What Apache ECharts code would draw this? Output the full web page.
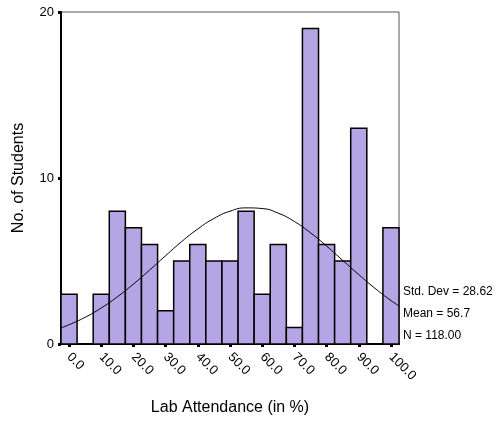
<!DOCTYPE html>
<html><head><meta charset="utf-8">
<script src="https://cdn.jsdelivr.net/npm/echarts@6/dist/echarts.min.js"></script>
<style>html,body{margin:0;padding:0;background:#fff}#c{width:497px;height:423px}</style>
</head><body><div id="c"></div>
<script>
// Bin centres (width 5) and counts
var binCenters = [0,5,10,15,20,25,30,35,40,45,50,55,60,65,70,75,80,85,90,95,100];
var counts     = [3,0,3,8,7,6,2,5,6,5,5,8,3,6,1,19,6,5,13,0,7];
// Fitted normal curve
var curveX = [-2.5,0,5,10,15,20,25,30,35,40,45,50,55,60,65,70,75,80,85,90,95,100,102.5];
var curveY = [0.97,1.16,1.61,2.17,2.84,3.61,4.45,5.32,6.17,6.93,7.56,8.00,8.20,8.16,7.88,7.38,6.70,5.90,5.04,4.18,3.36,2.62,2.29];
var xTicks = [0,10,20,30,40,50,60,70,80,90,100];
var statsText = ['Std. Dev = 28.62','Mean = 56.7','N = 118.00'];
var binWidth = 5;

var chart = echarts.init(document.getElementById('c'), null, {renderer:'canvas'});
var font = 'Liberation Sans, Arial, sans-serif';
chart.setOption({
  animation:false,
  grid:{left:61,right:98,top:12,bottom:79,outerBoundsMode:'none',containLabel:false,
    show:true,borderColor:'#555',borderWidth:1,backgroundColor:'transparent'},
  xAxis:{type:'value',min:-2.5,max:102.5,
    name:'Lab Attendance (in %)',nameLocation:'middle',nameGap:56,
    nameTextStyle:{color:'#000',fontSize:16,fontFamily:font},
    axisLine:{show:true,onZero:false,lineStyle:{color:'#000',width:2}},
    axisTick:{show:true,customValues:xTicks,length:3,lineStyle:{color:'#000',width:3}},
    axisLabel:{customValues:xTicks,rotate:-45,color:'#000',fontSize:13,fontFamily:font,margin:11,
      formatter:function(v){return Number(v).toFixed(1);}},
    splitLine:{show:false}},
  yAxis:{type:'value',min:0,max:20,interval:10,
    name:'No. of Students',nameLocation:'middle',nameGap:34,nameRotate:90,
    nameTextStyle:{color:'#000',fontSize:16,fontFamily:font},
    axisLine:{show:true,onZero:false,lineStyle:{color:'#000',width:2}},
    axisTick:{show:true,length:3,lineStyle:{color:'#000',width:3}},
    axisLabel:{color:'#000',fontSize:13,fontFamily:font,margin:7},
    splitLine:{show:false}},
  series:[
    {type:'custom',
     data:binCenters.map(function(c,i){return [c,counts[i]];}),
     renderItem:function(params,api){
       var c=api.value(0), v=api.value(1);
       if(!v) return null;
       var p1=api.coord([c-binWidth/2,v]);
       var p2=api.coord([c+binWidth/2,0]);
       return {type:'rect',shape:{x:p1[0],y:p1[1],width:p2[0]-p1[0],height:p2[1]-p1[1]},
         style:{fill:'#b4a5e4',stroke:'#000',lineWidth:1.5}};
     },z:2},
    {type:'line',data:curveX.map(function(x,i){return [x,curveY[i]];}),
     smooth:true,showSymbol:false,lineStyle:{color:'#000',width:1},z:3}
  ],
  graphic:statsText.map(function(t,i){
    return {type:'text',left:403,top:286+i*22,style:{text:t,fill:'#000',font:'12px '+font}};
  })
});
</script></body></html>
